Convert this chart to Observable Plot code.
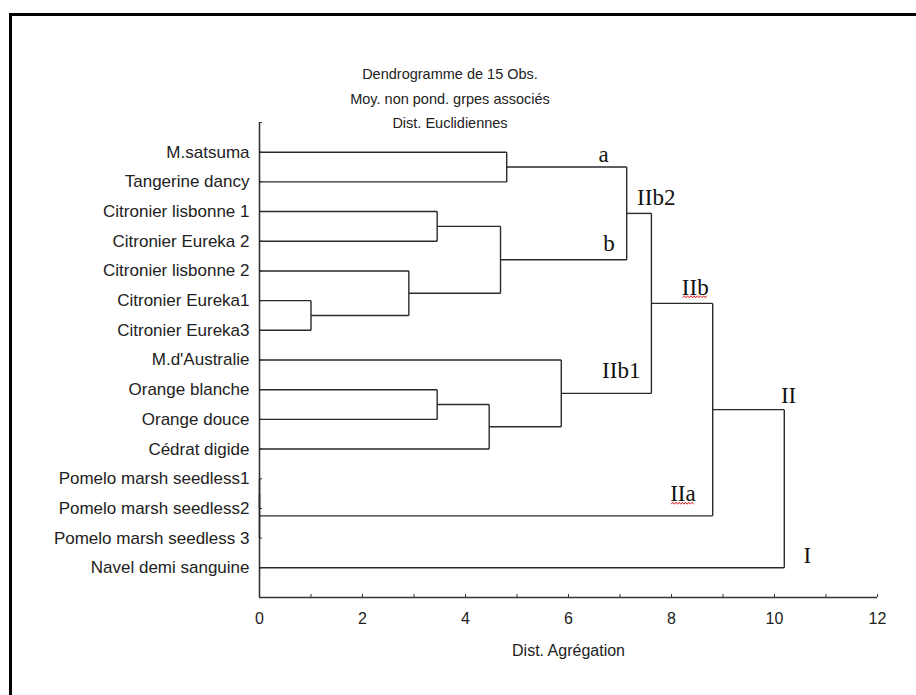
<!DOCTYPE html>
<html><head><meta charset="utf-8">
<script src="https://cdn.jsdelivr.net/npm/d3@7"></script>
<script src="https://cdn.jsdelivr.net/npm/@observablehq/plot@0.6"></script>
<style>
body{margin:0;background:#fff;width:916px;height:695px;overflow:hidden;position:relative;font-family:"Liberation Sans",Arial,sans-serif}
#frame{position:absolute;left:9px;top:13px;width:2000px;height:2000px;border-left:3px solid #000;border-top:3px solid #000}
#title{position:absolute;left:0;width:900px;top:62px;text-align:center;font-size:14.5px;line-height:24.5px;color:#222}
#chart{position:absolute;left:0;top:0}
</style></head><body>
<div id="frame"></div>
<div id="title"><div>Dendrogramme de 15 Obs.</div><div>Moy. non pond. grpes associés</div><div>Dist. Euclidiennes</div></div>
<div id="chart"></div>
<script>
// Leaves, top to bottom
const leaves = [
  "M.satsuma", "Tangerine dancy", "Citronier lisbonne 1", "Citronier Eureka 2",
  "Citronier lisbonne 2", "Citronier Eureka1", "Citronier Eureka3", "M.d'Australie",
  "Orange blanche", "Orange douce", "Cédrat digide", "Pomelo marsh seedless1",
  "Pomelo marsh seedless2", "Pomelo marsh seedless 3", "Navel demi sanguine"
];
// Merge table (hclust style): negative = leaf -(index+1), positive = merge number (1-based)
const mergeLeft   = [-12,  1, -6, -5, -3, -9,  6,  5, -1, -8,  9, 11, 12, 13];
const mergeRight  = [-13, -14, -7,  3, -4, -10, -11, 4, -2,  7,  8, 10,  2, -15];
const mergeHeight = [0, 0, 1.0, 2.9, 3.45, 3.45, 4.46, 4.68, 4.8, 5.86, 7.13, 7.61, 8.8, 10.19];
// Cluster annotations: label and the node whose branch it names
const clusterLabels = ["a", "b", "IIb2", "IIb", "IIb1", "IIa", "II", "I"];
const clusterNodes  = [9, 8, 11, 12, 10, 2, 13, -15];
// Axis ticks
const xTicks = [0, 1, 2, 3, 4, 5, 6, 7, 8, 9, 10, 11, 12];
const xTickLabels = [0, 2, 4, 6, 8, 10, 12];

// ---- layout from the merge table ----
const mergeY = [];
const nodeY = id => id < 0 ? (-id) : mergeY[id - 1];
const nodeH = id => id < 0 ? 0 : mergeHeight[id - 1];
mergeLeft.forEach((a, k) => { mergeY[k] = (nodeY(a) + nodeY(mergeRight[k])) / 2; });
const parentOf = {};
mergeLeft.forEach((a, k) => { parentOf[a] = k + 1; parentOf[mergeRight[k]] = k + 1; });
const segments = [];
mergeLeft.forEach((a, k) => {
  const b = mergeRight[k], h = mergeHeight[k];
  for (const c of [a, b]) segments.push({x1: nodeH(c), x2: h, y1: nodeY(c), y2: nodeY(c)});
  segments.push({x1: h, x2: h, y1: nodeY(a), y2: nodeY(b)});
});
const rows = leaves.map((d, i) => i + 1);
const yMax = 16;

const annot = clusterLabels.map((label, i) => {
  const n = clusterNodes[i];
  return {label, x: mergeHeight[parentOf[n] - 1], y: nodeY(n)};
});
// label offsets (style)
const off = {a:[-18,-12], b:[-12,-16], IIb2:[24,-16], IIb:[-4,-16], IIb1:[-11,-23], IIa:[-17,-22], II:[12,-14], I:[27,-12]};

const annotMarks = annot.map(d => Plot.text([d], {
  x: "x", y: "y", text: "label", textAnchor: "end", lineAnchor: "middle",
  dx: off[d.label][0], dy: off[d.label][1],
  fontFamily: "Liberation Serif, Times New Roman, serif", fontSize: 23, fill: "#111"
}));

const chart = Plot.plot({
  width: 916, height: 695,
  marginLeft: 259, marginRight: 39, marginTop: 122, marginBottom: 98,
  style: {background: "transparent", fontFamily: "Liberation Sans, Arial, sans-serif", color: "#222", overflow: "visible"},
  x: {domain: [0, 12]},
  y: {domain: [0, yMax], reverse: true},
  marks: [
    Plot.axisX({ticks: xTicks, tickSize: -3, tickFormat: () => "", label: null, stroke: "#333"}),
    Plot.axisX({ticks: xTickLabels, tickSize: 0, tickPadding: 15, fontSize: 16, label: "Dist. Agrégation", labelAnchor: "center", labelOffset: 58, labelArrow: "none"}),
    Plot.axisY({ticks: [0, ...rows], tickSize: -3, tickFormat: () => "", label: null, stroke: "#333"}),
    Plot.axisY({ticks: rows, tickSize: 0, tickPadding: 10, tickFormat: i => leaves[i - 1], fontSize: 17, label: null}),
    Plot.ruleX([0], {stroke: "#333", strokeWidth: 1.6}),
    Plot.ruleY([yMax], {stroke: "#333", strokeWidth: 1.6}),
    Plot.link(segments, {x1: "x1", y1: "y1", x2: "x2", y2: "y2", stroke: "#2a2a2a", strokeWidth: 1.4, curve: "linear"}),
    ...annotMarks
  ]
});
document.getElementById("chart").append(chart);
// red wavy "spell-check" underline under IIb and IIa
d3.select(chart).selectAll("text").each(function() {
  const t = this.textContent;
  if (t !== "IIb" && t !== "IIa") return;
  const bb = this.getBBox();
  const yb = bb.y + bb.height - 3;
  const pts = [];
  for (let i = 0, x = bb.x + 1; x <= bb.x + bb.width - 1; i++, x += 1.6) pts.push([x, yb + (i % 2 ? -1 : 1)]);
  const p = document.createElementNS("http://www.w3.org/2000/svg", "polyline");
  p.setAttribute("points", pts.map(q => q.join(",")).join(" "));
  p.setAttribute("fill", "none");
  p.setAttribute("stroke", "#e02020");
  p.setAttribute("stroke-width", "1");
  const tr = this.getAttribute("transform");
  if (tr) p.setAttribute("transform", tr);
  this.parentNode.appendChild(p);
});
</script>
</body></html>
